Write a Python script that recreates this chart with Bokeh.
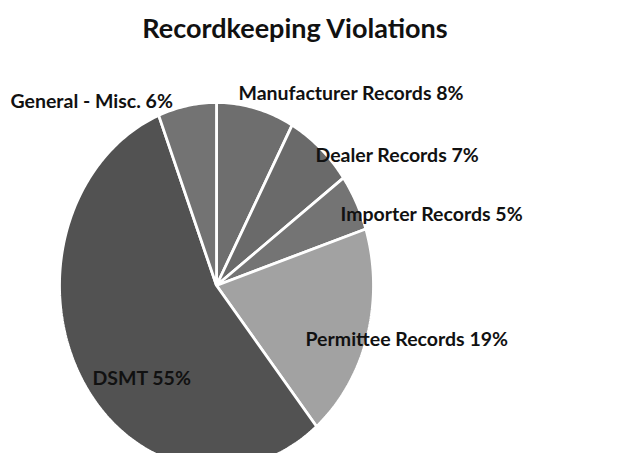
import numpy as np
from bokeh.plotting import figure
from bokeh.models import Range1d, ColumnDataSource
from bokeh.core.properties import value
from bokeh.embed import file_html
from bokeh.resources import INLINE

title = "Recordkeeping Violations"
categories = ["Manufacturer Records", "Dealer Records", "Importer Records",
              "Permittee Records", "DSMT", "General - Misc."]
percents = [8, 7, 5, 19, 55, 6]
colors = ["#6e6e6e", "#6a6a6a", "#747474", "#a2a2a2", "#525252", "#737373"]

W, H = 607, 453
# data coordinates: x = image px, y = 469 - image px
p = figure(width=W, height=H, output_backend="svg", toolbar_location=None,
           x_range=Range1d(0, W), y_range=Range1d(469 - H, 469),
           min_border=0, background_fill_color="#ffffff", border_fill_color="#ffffff")
p.axis.visible = False
p.grid.visible = False
p.outline_line_color = None

cx, cy = 216, 469 - 285
rx, ry = 157, 183

vals = np.array(percents, dtype=float)
frac = vals / vals.sum()
ends = np.cumsum(frac)
starts = ends - frac
xs, ys = [], []
for s, e in zip(starts, ends):
    t = np.linspace(s, e, max(int((e - s) * 400), 8)) * 2 * np.pi
    xs.append([cx] + list(cx + rx * np.sin(t)) + [cx])
    ys.append([cy] + list(cy + ry * np.cos(t)) + [cy])

src = ColumnDataSource(dict(xs=xs, ys=ys, color=colors))
p.patches("xs", "ys", source=src, fill_color="color", line_color="white", line_width=2.8)

labels = [f"{c} {v}%" for c, v in zip(categories, percents)]
# label anchor positions (image px)
lx = [238, 315, 340, 305, 92, 10]
ly = [92, 154, 213, 338, 377, 100]
lsrc = ColumnDataSource(dict(x=lx, y=[469 - v for v in ly], text=labels))
p.text("x", "y", text="text", source=lsrc, text_font=value("Lato"),
       text_font_style="bold", text_font_size="19.5px", text_color="#111111",
       text_baseline="middle", text_align="left")

p.text([295], [469 - 27], text=[title], text_font=value("Lato"), text_font_style="bold",
       text_font_size="27px", text_color="#111111", text_baseline="middle", text_align="center")

open("out.html", "w").write(file_html(p, INLINE))
